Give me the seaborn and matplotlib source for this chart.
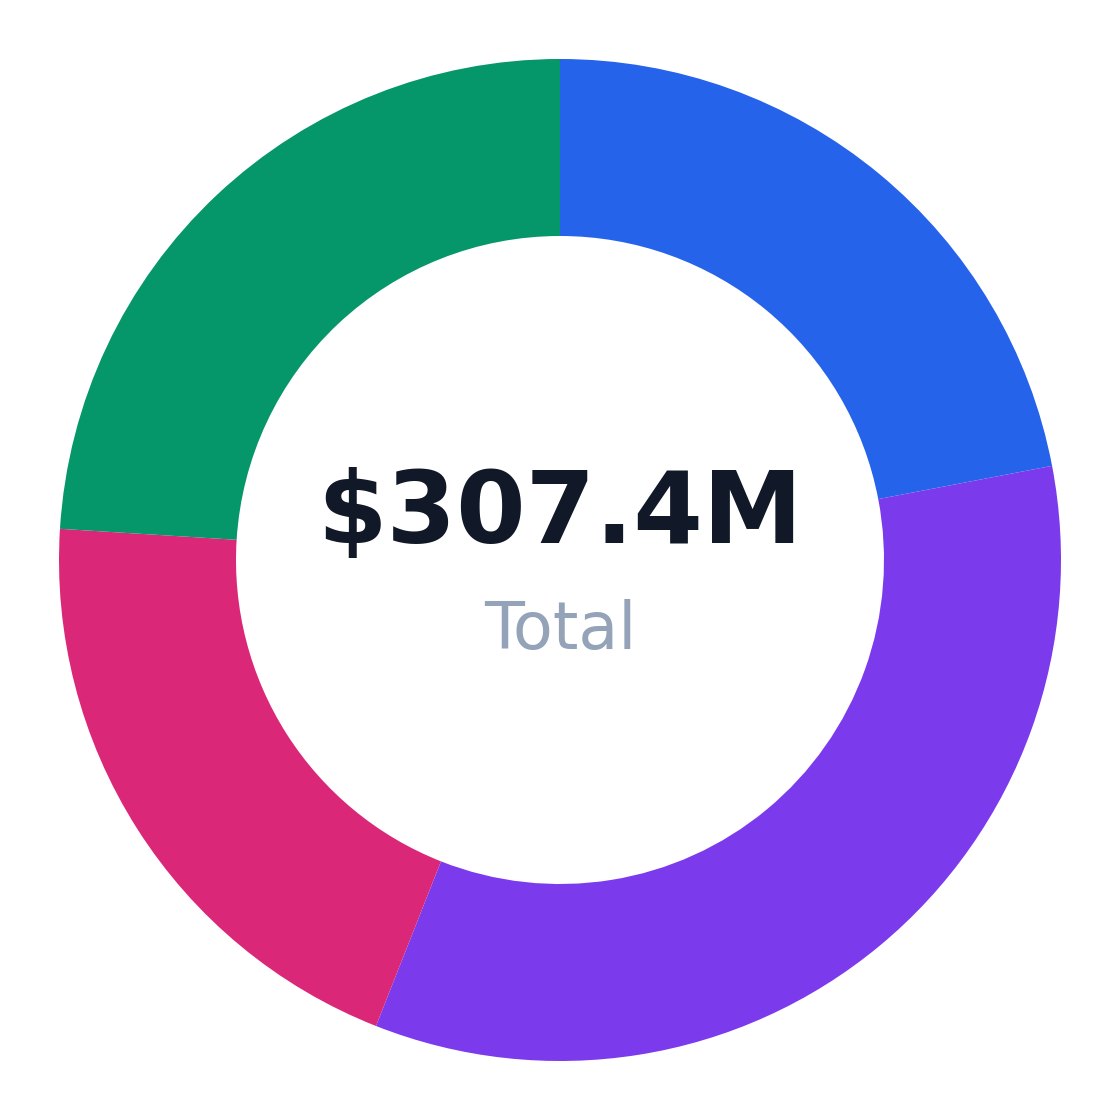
import numpy as np
import pandas as pd
import seaborn as sns
import matplotlib.pyplot as plt

# segment values in $M, clockwise from 12 o'clock
segments = ['Blue', 'Purple', 'Pink', 'Green']
values = [67.6, 104.5, 61.5, 73.8]
colors = ['#2563eb', '#7c3aed', '#db2777', '#059669']

total_label = '$307.4M'
sub_label = 'Total'

sns.set_theme(style='white')
plt.rcParams['font.family'] = ['DejaVu Sans']

df = pd.DataFrame({'segment': segments, 'value': values})
palette = sns.color_palette(colors)

fig = plt.figure(figsize=(11.2, 11.2), dpi=100)
ax = fig.add_axes([0, 0, 1, 1])

outer = 1.0
width = 1 - 324 / 501
ax.pie(df['value'], colors=palette, startangle=90, counterclock=False,
       radius=outer, wedgeprops=dict(width=width, edgecolor='none', linewidth=0))

lim = 560 / 501
ax.set_xlim(-lim, lim)
ax.set_ylim(-lim, lim)
ax.set_aspect('equal')
ax.axis('off')

ax.text(0, 0.034, total_label, ha='center', va='baseline', fontsize=72,
        fontweight='bold', color='#111827')
ax.text(0, -0.178, sub_label, ha='center', va='baseline', fontsize=47,
        color='#94a3b8')

fig.savefig('out.png', dpi=100, facecolor='white')
